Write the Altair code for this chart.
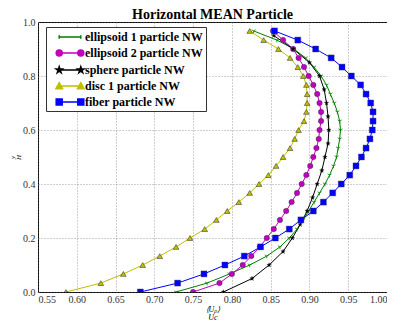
import altair as alt
import pandas as pd

series_names = ["ellipsoid 1 particle NW", "ellipsoid 2 particle NW",
                "sphere particle NW", "disc 1 particle NW", "fiber particle NW"]
series_colors = ["#008000", "#bf00bf", "#000000", "#bfbf00", "#0000ff"]

y_levels_30 = [0.000, 0.033, 0.067, 0.100, 0.133, 0.167, 0.200, 0.233, 0.267, 0.300,
               0.333, 0.367, 0.400, 0.433, 0.467, 0.500, 0.533, 0.567, 0.600, 0.633,
               0.667, 0.700, 0.733, 0.767, 0.800, 0.833, 0.867, 0.900, 0.933, 0.967]
y_levels_20 = [0.00, 0.05, 0.10, 0.15, 0.20, 0.25, 0.30, 0.35, 0.40, 0.45,
               0.50, 0.55, 0.60, 0.65, 0.70, 0.75, 0.80, 0.85, 0.90, 0.95]

ellipsoid1 = [0.728, 0.768, 0.797, 0.823, 0.845, 0.862, 0.874, 0.884, 0.892, 0.899,
              0.906, 0.913, 0.920, 0.926, 0.931, 0.935, 0.937, 0.939, 0.940, 0.939,
              0.936, 0.932, 0.927, 0.922, 0.915, 0.906, 0.895, 0.880, 0.858, 0.828]
ellipsoid2 = [0.750, 0.784, 0.800, 0.814, 0.825, 0.836, 0.845, 0.854, 0.862, 0.870,
              0.877, 0.884, 0.890, 0.896, 0.901, 0.905, 0.909, 0.912, 0.913, 0.915,
              0.915, 0.913, 0.910, 0.905, 0.899, 0.893, 0.886, 0.879, 0.866, 0.853]
sphere = [0.789, 0.826, 0.848, 0.866, 0.878, 0.888, 0.897, 0.904, 0.910, 0.916,
          0.920, 0.924, 0.925, 0.924, 0.922, 0.919, 0.913, 0.900, 0.879, 0.854]
disc1 = [0.586, 0.631, 0.660, 0.685, 0.707, 0.728, 0.746, 0.765, 0.780, 0.794,
         0.809, 0.823, 0.835, 0.847, 0.857, 0.866, 0.875, 0.881, 0.886, 0.893,
         0.896, 0.897, 0.897, 0.896, 0.892, 0.885, 0.875, 0.860, 0.841, 0.823]
fiber = [0.682, 0.730, 0.764, 0.791, 0.816, 0.837, 0.856, 0.874, 0.889, 0.905,
         0.918, 0.930, 0.941, 0.952, 0.960, 0.967, 0.973, 0.978, 0.981, 0.982,
         0.982, 0.979, 0.973, 0.966, 0.954, 0.942, 0.928, 0.908, 0.885, 0.855]

x_ticks = [0.55, 0.60, 0.65, 0.70, 0.75, 0.80, 0.85, 0.90, 0.95, 1.00]
y_ticks = [0.0, 0.2, 0.4, 0.6, 0.8, 1.0]

rows = []
for name, xs, ys in [(series_names[0], ellipsoid1, y_levels_30),
                     (series_names[1], ellipsoid2, y_levels_30),
                     (series_names[2], sphere, y_levels_20),
                     (series_names[3], disc1, y_levels_30),
                     (series_names[4], fiber, y_levels_30)]:
    for xv, yv in zip(xs, ys):
        rows.append({"series": name, "u": xv, "y": yv})
df = pd.DataFrame(rows)

SERIF = "Liberation Serif"

x_scale = alt.Scale(domain=[0.55, 1.0], nice=False, zero=False)
y_scale = alt.Scale(domain=[0, 1], nice=False)

x_axis = alt.Axis(values=x_ticks, format=".2f", title=["⟨Uₚ⟩", "Uc"],
                  titleFontSize=8, titleFont=SERIF, titleFontStyle="italic",
                  titleFontWeight="normal", titlePadding=1, titleLineHeight=8,
                  labelPadding=2, labelOverlap=False)
y_axis = alt.Axis(values=y_ticks, format=".1f", title=["y", "H"],
                  titleFontSize=7, titleFont=SERIF, titleFontStyle="italic",
                  titleFontWeight="normal", titlePadding=1, titleLineHeight=6,
                  labelPadding=3, labelOverlap=False)

x_enc = alt.X("u:Q", scale=x_scale, axis=x_axis)
y_enc = alt.Y("y:Q", scale=y_scale, axis=y_axis)

base = alt.Chart(df)

STAR = "M0,-1L0.2245,-0.309L0.951,-0.309L0.363,0.118L0.588,0.809L0,0.382L-0.588,0.809L-0.363,0.118L-0.951,-0.309L-0.2245,-0.309Z"
TRI_DOWN = "M0,0L0,1M0,0L-0.87,-0.5M0,0L0.87,-0.5"


def sub(name):
    return base.transform_filter(alt.datum.series == name)


def line_for(name, color):
    return sub(name).mark_line(strokeWidth=1, clip=True, color=color).encode(
        x=x_enc, y=y_enc, order=alt.Order("y:Q"))


def pts(name, **kw):
    return sub(name).mark_point(clip=True, **kw).encode(x=x_enc, y=y_enc)


line_layers = [line_for(n, c) for n, c in zip(series_names, series_colors)]

p_e1 = pts(series_names[0], shape=TRI_DOWN, size=22, filled=False, stroke="#008000", strokeWidth=0.8, opacity=1)
p_e2 = pts(series_names[1], shape="circle", size=30, filled=True, fill="#bf00bf", stroke="#333333", strokeWidth=0.4, opacity=1)
p_sp = pts(series_names[2], shape=STAR, size=22, filled=True, fill="#000000", stroke="#000000", strokeWidth=0.3, opacity=1)
p_d1 = pts(series_names[3], shape="triangle-up", size=32, filled=True, fill="#bfbf00", stroke="#222222", strokeWidth=0.5, opacity=1)
p_fb = pts(series_names[4], shape="square", size=36, filled=True, fill="#0000ff", stroke="#444444", strokeWidth=0.4, opacity=1)


def circ(cx, r):
    return f"M{cx - r},0A{r},{r} 0 1,0 {cx + r},0A{r},{r} 0 1,0 {cx - r},0Z"


def sq(cx, r):
    return f"M{cx - r},{-r}L{cx + r},{-r}L{cx + r},{r}L{cx - r},{r}Z"


def tri(cx, r):
    return f"M{cx},{-r}L{cx + r},{r * 0.8}L{cx - r},{r * 0.8}Z"


def star(cx, r):
    pts_ = [(0, -1), (0.2245, -0.309), (0.951, -0.309), (0.363, 0.118), (0.588, 0.809),
            (0, 0.382), (-0.588, 0.809), (-0.363, 0.118), (-0.951, -0.309), (-0.2245, -0.309)]
    return "M" + "L".join(f"{cx + px * r:.3f},{py * r:.3f}" for px, py in pts_) + "Z"


# legend symbols: a short line with a marker at each end (unit = 6 px at size 144)
E = 1.8
LINE = f"M{-E},0L{E},0"
leg_paths = [
    LINE + f"M{-E},-0.3L{-E},0.3M{E},-0.3L{E},0.3",
    LINE + circ(-E, 0.5) + circ(E, 0.5),
    LINE + star(-E, 0.55) + star(E, 0.55),
    LINE + tri(-E, 0.55) + tri(E, 0.55),
    LINE + sq(-E, 0.5) + sq(E, 0.5),
]

# legend-only layer: its points are pushed outside the clipped plot area
legend_layer = base.transform_calculate(yoff="datum.y + 5").mark_point(
    size=144, filled=True, strokeWidth=1, opacity=1, clip=True).encode(
    x=x_enc,
    y=alt.Y("yoff:Q", scale=y_scale, axis=y_axis),
    shape=alt.Shape("series:N", scale=alt.Scale(domain=series_names, range=leg_paths),
                    legend=alt.Legend(orient="none", legendX=8, legendY=5, title=None,
                                      fillColor="white", strokeColor="#333333", padding=3,
                                      symbolSize=144, symbolOffset=14, labelOffset=8,
                                      rowPadding=3, labelFont=SERIF, labelFontWeight="bold",
                                      labelFontSize=12, labelColor="black")),
    fill=alt.Fill("series:N", scale=alt.Scale(domain=series_names, range=series_colors)),
    stroke=alt.Stroke("series:N", scale=alt.Scale(domain=series_names, range=series_colors)),
)

chart = alt.layer(*line_layers, p_e1, p_e2, p_sp, p_d1, p_fb, legend_layer).properties(
    width=349, height=270,
    padding={"left": 0, "top": 0, "right": 0, "bottom": 0},
    title=alt.TitleParams("Horizontal MEAN Particle", font=SERIF, fontSize=14,
                          fontWeight="bold", color="black", offset=1, anchor="middle",
                          frame="group", dy=6),
).configure_view(stroke="black", strokeWidth=1).configure_axis(
    grid=True, gridColor="#777777", gridDash=[1, 2], gridWidth=0.7,
    domain=False, ticks=False,
    labelFont=SERIF, labelFontSize=10, labelColor="#333333",
    titleColor="black",
)

chart.save("out.html", embed_options={"renderer": "svg", "actions": False})
